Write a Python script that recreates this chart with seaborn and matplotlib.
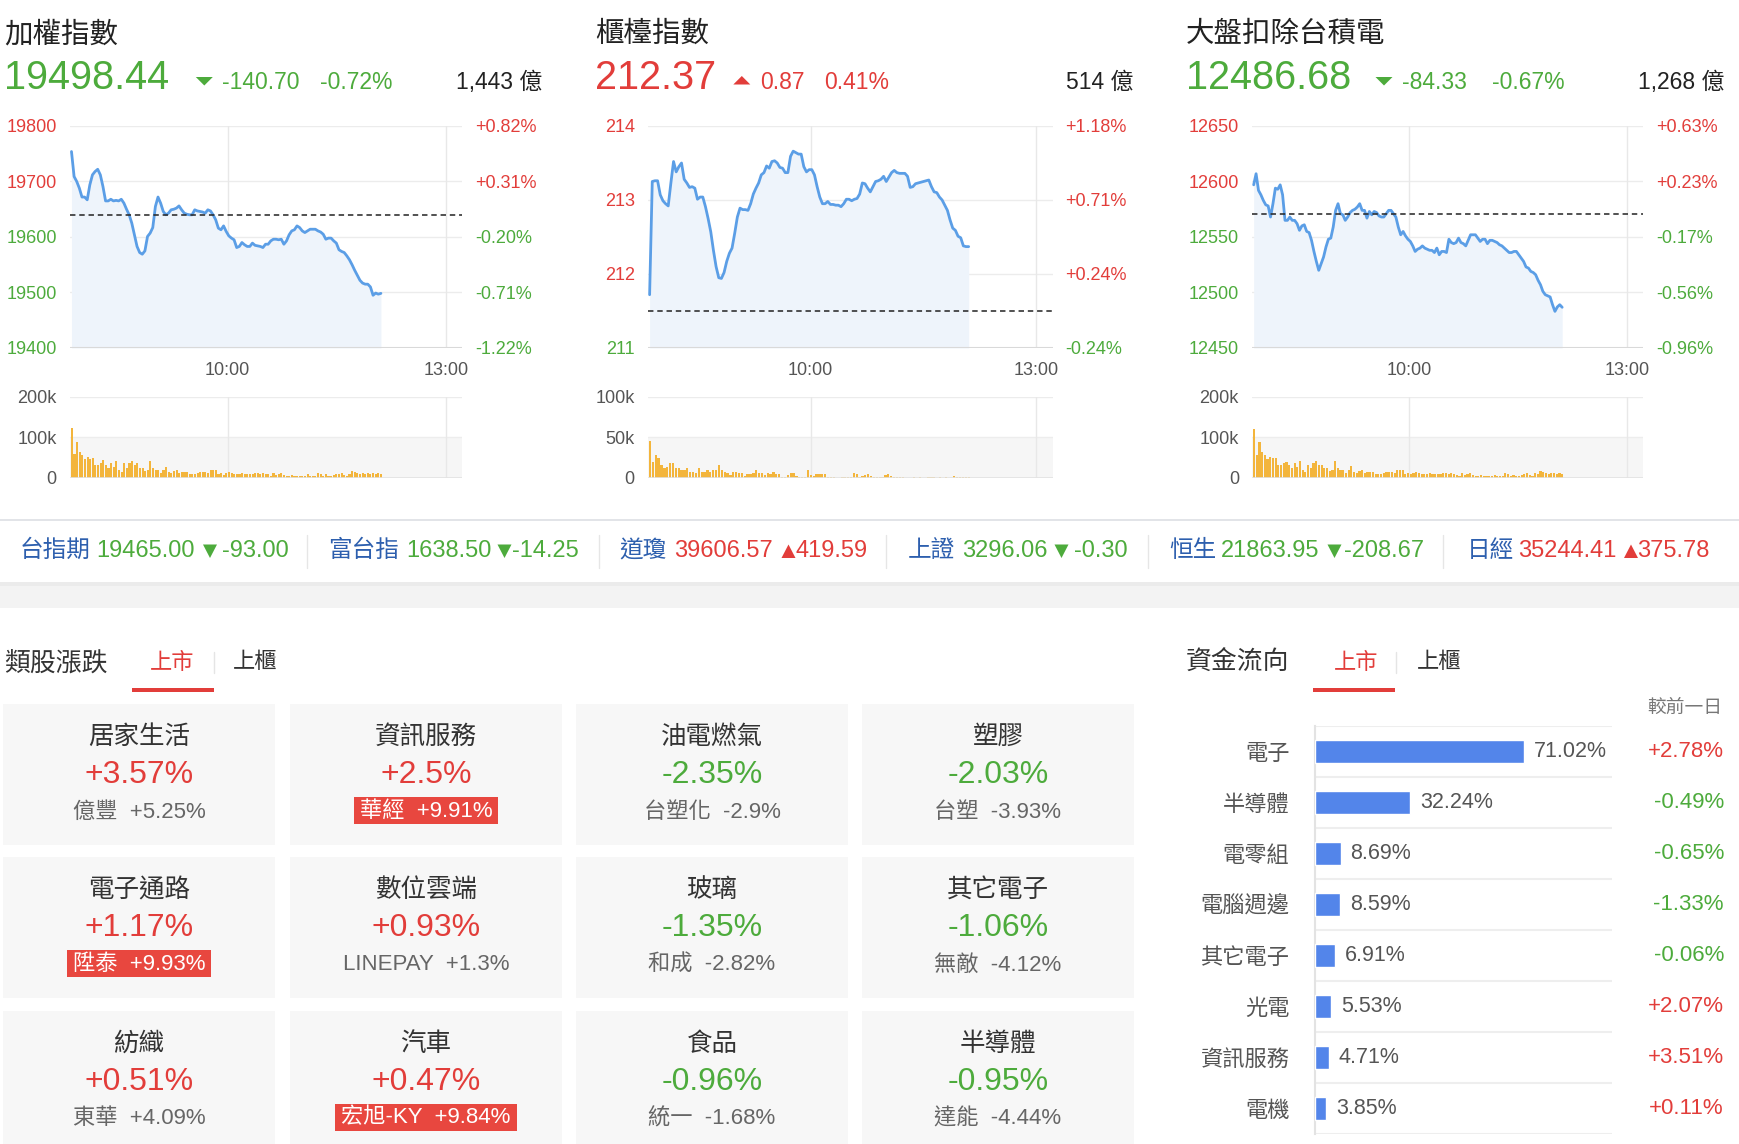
#!/usr/bin/env python3
"""
Painel de mercado (TW): três índices intradiários com volume,
faixa de índices internacionais, variação por setor e fluxo de recursos.
Salva em out.png (1740x1144).
"""

import numpy as np
import matplotlib
matplotlib.use("Agg")
import matplotlib.pyplot as plt
import seaborn as sns
from matplotlib.patches import Rectangle, Polygon


# ---------------- dados ----------------
INDEX_NAMES = ["加權指數", "櫃檯指數", "大盤扣除台積電"]
INDEX_LAST = [19498.44, 212.37, 12486.68]
INDEX_CHANGE = [-140.70, 0.87, -84.33]
INDEX_PCT = [-0.72, 0.41, -0.67]
INDEX_TURNOVER = [1443, 514, 1268]

TAIEX_TICKS = [19400, 19500, 19600, 19700, 19800]
OTC_TICKS = [211, 212, 213, 214]
EXTSMC_TICKS = [12450, 12500, 12550, 12600, 12650]

TAIEX_LINE = [
    19754, 19709, 19700, 19688, 19672, 19672, 19667, 19694, 19712, 19718,
    19722, 19712, 19691, 19665, 19665, 19668, 19665, 19666, 19665, 19668,
    19661, 19650, 19640, 19625, 19604, 19583, 19572, 19569, 19575, 19601,
    19607, 19617, 19655, 19672, 19661, 19646, 19640, 19643, 19649, 19650,
    19652, 19656, 19649, 19643, 19641, 19640, 19640, 19649, 19647, 19646,
    19645, 19643, 19649, 19647, 19640, 19631, 19616, 19613, 19620, 19610,
    19602, 19598, 19595, 19581, 19583, 19590, 19586, 19583, 19583, 19589,
    19585, 19584, 19583, 19581, 19587, 19587, 19593, 19596, 19596, 19595,
    19596, 19587, 19593, 19604, 19611, 19613, 19620, 19617, 19611, 19608,
    19611, 19614, 19614, 19614, 19611, 19609, 19605, 19596, 19598, 19598,
    19593, 19589, 19577, 19574, 19572, 19566, 19559, 19550, 19540, 19531,
    19522, 19517, 19515, 19515, 19510, 19495, 19499, 19497, 19498.44,
]
OTC_LINE = [
    211.72, 213.25, 213.26, 213.26, 213.07, 212.99, 212.95, 212.92, 213.23, 213.52,
    213.38, 213.45, 213.50, 213.28, 213.23, 213.17, 213.18, 213.16, 213.01, 213.04,
    213.04, 212.91, 212.75, 212.57, 212.32, 212.10, 211.95, 211.94, 212.02, 212.17,
    212.28, 212.35, 212.55, 212.77, 212.89, 212.87, 212.87, 212.86, 212.95, 213.08,
    213.16, 213.23, 213.34, 213.37, 213.46, 213.43, 213.52, 213.53, 213.50, 213.44,
    213.43, 213.37, 213.37, 213.59, 213.66, 213.64, 213.62, 213.62, 213.45, 213.38,
    213.41, 213.41, 213.34, 213.18, 213.04, 212.95, 212.95, 212.98, 212.94, 212.94,
    212.93, 212.93, 212.91, 212.95, 213.01, 213.01, 212.99, 213.01, 213.02, 213.08,
    213.23, 213.22, 213.16, 213.11, 213.18, 213.25, 213.26, 213.28, 213.32, 213.25,
    213.31, 213.37, 213.40, 213.37, 213.36, 213.36, 213.36, 213.32, 213.17, 213.18,
    213.22, 213.23, 213.24, 213.25, 213.26, 213.27, 213.18, 213.11, 213.10, 213.04,
    213.00, 212.93, 212.86, 212.73, 212.62, 212.59, 212.51, 212.49, 212.38, 212.37,
    212.37,
]
EXTSMC_LINE = [
    12597, 12607, 12592, 12588, 12583, 12579, 12578, 12568, 12580, 12594,
    12593, 12597, 12588, 12565, 12565, 12568, 12565, 12565, 12562, 12556,
    12560, 12561, 12555, 12554, 12547, 12537, 12528, 12520, 12526, 12532,
    12541, 12548, 12549, 12559, 12574, 12580, 12571, 12570, 12565, 12568,
    12572, 12574, 12575, 12577, 12580, 12574, 12574, 12567, 12573, 12570,
    12573, 12572, 12569, 12568, 12568, 12571, 12574, 12574, 12571, 12568,
    12559, 12552, 12555, 12551, 12548, 12546, 12542, 12537, 12539, 12540,
    12542, 12540, 12539, 12538, 12538, 12536, 12540, 12534, 12537, 12537,
    12536, 12548, 12545, 12544, 12545, 12549, 12545, 12544, 12542, 12547,
    12552, 12552, 12552, 12549, 12546, 12548, 12548, 12544, 12547, 12547,
    12546, 12545, 12543, 12542, 12540, 12538, 12536, 12536, 12537, 12537,
    12534, 12531, 12528, 12523, 12522, 12519, 12518, 12516, 12511, 12507,
    12501, 12498, 12497, 12496, 12489, 12483, 12487, 12489, 12486.68,
]

# volume em milhares
TAIEX_VOL = [
    124, 60, 88, 64, 56, 47, 52, 47, 49, 32, 32, 37, 45, 32, 24, 37, 28, 41, 20, 16,
    37, 24, 37, 41, 32, 37, 24, 24, 17, 20, 41, 24, 20, 20, 12, 20, 28, 16, 13, 17,
    20, 12, 16, 16, 16, 10, 10, 10, 12, 16, 16, 16, 12, 20, 20, 20, 10, 12, 8, 12,
    16, 12, 9, 9, 9, 12, 9, 9, 9, 9, 12, 12, 9, 12, 9, 9, 5, 12, 8, 9,
    12, 8, 5, 5, 8, 5, 5, 5, 5, 5, 9, 5, 5, 5, 12, 9, 5, 9, 5, 5,
    8, 9, 9, 12, 8, 5, 9, 17, 15, 12, 10, 12, 9, 12, 10, 12, 11, 12, 10,
]
OTC_VOL = [
    46, 20, 29, 25, 16, 12, 14, 18, 18, 12, 12, 10, 10, 12, 8, 8, 6, 12, 8, 8,
    10, 8, 10, 10, 16, 10, 8, 6, 4, 8, 8, 6, 6, 2.5, 4.6, 4.6, 6, 10, 6, 6,
    4, 6, 4.6, 8, 4.6, 4.6, 1.7, 1.7, 4, 6, 6, 2.5, 1.7, 1.7, 1.7, 10, 4, 2.5, 4.6, 4.6,
    4.6, 4.6, 1.7, 1.7, 1.7, 0, 0, 1.7, 1.7, 1.7, 1.7, 6, 4.6, 1.7, 2.5, 4, 4.6, 2.5, 1.7, 1.7,
    1.7, 1.7, 4, 4.6, 2.5, 1.7, 1.7, 1.7, 1.7, 0, 0, 0, 1.7, 0, 1.7, 0, 0, 1.7, 1.7, 1.7,
    0, 1.7, 0, 1.7, 0, 0, 2, 1.7, 1.7, 1.7, 1.7, 1.7,
]
EXTSMC_VOL = [
    120, 57, 89, 64, 57, 47, 52, 49, 49, 32, 32, 37, 39, 32, 24, 37, 28, 41, 20, 16,
    32, 24, 37, 41, 32, 32, 24, 24, 17, 20, 41, 24, 20, 20, 12, 20, 30, 16, 13, 17,
    20, 12, 16, 16, 16, 9, 9, 9, 12, 16, 16, 16, 12, 20, 20, 20, 9, 12, 9, 12,
    16, 12, 9, 9, 9, 12, 9, 9, 9, 9, 12, 12, 9, 12, 9, 8, 5, 12, 8, 9,
    12, 8, 5, 5, 8, 5, 5, 5, 5, 8, 5, 5, 5, 12, 9, 5, 8, 5, 5, 8,
    9, 12, 8, 5, 12, 10, 17, 15, 12, 10, 12, 12, 10, 12, 11,
]
VOL_TICKS = [[0, 100, 200], [0, 50, 100], [0, 100, 200]]
VOL_LABELS = [["0", "100k", "200k"], ["0", "50k", "100k"], ["0", "100k", "200k"]]
TIME_LABELS = ["10:00", "13:00"]

TICKER_NAMES = ["台指期", "富台指", "道瓊", "上證", "恒生", "日經"]
TICKER_PRICE = [19465.00, 1638.50, 39606.57, 3296.06, 21863.95, 35244.41]
TICKER_CHANGE = [-93.00, -14.25, 419.59, -0.30, -208.67, 375.78]

SECTOR_NAMES = ["居家生活", "資訊服務", "油電燃氣", "塑膠",
                "電子通路", "數位雲端", "玻璃", "其它電子",
                "紡織", "汽車", "食品", "半導體"]
SECTOR_CHANGE = [3.57, 2.5, -2.35, -2.03, 1.17, 0.93, -1.35, -1.06,
                 0.51, 0.47, -0.96, -0.95]
LEADER_NAMES = ["億豐", "華經", "台塑化", "台塑", "陞泰", "LINEPAY", "和成", "無敵",
                "東華", "宏旭-KY", "統一", "達能"]
LEADER_CHANGE = [5.25, 9.91, -2.9, -3.93, 9.93, 1.3, -2.82, -4.12,
                 4.09, 9.84, -1.68, -4.44]

FLOW_NAMES = ["電子", "半導體", "電零組", "電腦週邊", "其它電子", "光電", "資訊服務", "電機"]
FLOW_SHARE = [71.02, 32.24, 8.69, 8.59, 6.91, 5.53, 4.71, 3.85]
FLOW_DIFF = [2.78, -0.49, -0.65, -1.33, -0.06, 2.07, 3.51, 0.11]

# ---------------- estilo ----------------
W, H = 1740, 1144
RED = "#e23d3a"
GREEN = "#4dab3c"
LINE_BLUE = "#5b9ee6"
FILL = "#eef4fb"
BAR_ORANGE = "#f3b53c"
FLOW_BLUE = "#5385ea"
TICKER_BLUE = "#2d5fae"
DARK = "#333333"
GRAY = "#666666"
GRID = "#ececec"

DATA_END = 0.792
TIME_TICKS = [0.401, 0.958]

sns.set_style("white")
plt.rcParams["font.family"] = ["Liberation Sans", "Noto Sans CJK TC", "DejaVu Sans"]


def axes_px(fig, left, top, right, bottom):
    ax = fig.add_axes([left / W, 1 - bottom / H, (right - left) / W, (bottom - top) / H])
    ax.set_facecolor("none")
    ax.set_zorder(2)
    return ax


def clean(ax):
    for s in ax.spines.values():
        s.set_visible(False)


def sign_color(v):
    return RED if v > 0 else GREEN


def draw_index(ax, axv, line, ticks, prev, volume, vticks, vlabels):
    xs = np.linspace(0.003, DATA_END, len(line))
    lo, hi = ticks[0], ticks[-1]
    for t in ticks:
        ax.axhline(t, color=GRID, lw=1, zorder=0)
    for t in TIME_TICKS:
        ax.axvline(t, color="#e8e8e8", lw=1, zorder=0)
    ax.fill_between(xs, line, lo, color=FILL, lw=0, zorder=1)
    sns.lineplot(x=xs, y=line, ax=ax, color=LINE_BLUE, linewidth=2.0, zorder=3)
    ax.axhline(lo, color="#d9d9d9", lw=1.5, zorder=2)
    ax.axhline(prev, color="#2a2a2a", lw=1.15, ls=(0, (3.4, 2.4)), zorder=4)
    ax.set_xlim(0, 1)
    ax.set_ylim(lo, hi)
    ax.set_xlabel("")
    ax.set_ylabel("")
    ax.set_xticks(TIME_TICKS)
    ax.set_xticklabels(TIME_LABELS, fontsize=13, color="#555555")
    ax.set_yticks(ticks)
    ax.set_yticklabels([f"{t:g}" for t in ticks], fontsize=13)
    for lab, t in zip(ax.get_yticklabels(), ticks):
        lab.set_color(sign_color(t - prev))
    ax.tick_params(axis="y", length=0, pad=9.8)
    ax.tick_params(axis="x", length=0, pad=10)
    clean(ax)

    ax2 = ax.twinx()
    ax2.set_facecolor("none")
    ax2.set_ylim(lo, hi)
    ax2.set_yticks(ticks)
    pcts = [(t - prev) / prev * 100 for t in ticks]
    ax2.set_yticklabels([f"{p:+.2f}%" for p in pcts], fontsize=13)
    for lab, p in zip(ax2.get_yticklabels(), pcts):
        lab.set_color(sign_color(p))
    ax2.tick_params(axis="y", length=0, pad=9)
    clean(ax2)

    # volume
    xv = np.linspace(0.004, DATA_END, len(volume))
    axv.axhspan(0, vticks[1], color="#f6f6f6", lw=0, zorder=0)
    axv.axhline(vticks[1], color="#ededed", lw=1, zorder=0.5)
    axv.axhline(vticks[2], color=GRID, lw=1, zorder=0.5)
    for t in TIME_TICKS:
        axv.axvline(t, color="#e8e8e8", lw=1, zorder=0.5)
    sns.barplot(x=xv, y=volume, native_scale=True, color=BAR_ORANGE, saturation=1,
                width=0.8, errorbar=None, linewidth=0, ax=axv, zorder=2)
    axv.axhline(0, color="#e2e2e2", lw=1.2, zorder=3)
    axv.set_xlim(0, 1)
    axv.set_ylim(0, vticks[2])
    axv.set_xticks([])
    axv.set_xlabel("")
    axv.set_ylabel("")
    axv.set_yticks(vticks)
    axv.set_yticklabels(vlabels, fontsize=13, color="#555555")
    axv.tick_params(axis="y", length=0, pad=9.8)
    clean(axv)


def main():
    fig = plt.figure(figsize=(W / 100, H / 100), dpi=100)
    fig.patch.set_facecolor("white")

    bg = fig.add_axes([0, 0, 1, 1])
    bg.set_xlim(0, W)
    bg.set_ylim(H, 0)
    bg.axis("off")
    bg.set_zorder(0)

    # ---------- índices ----------
    panels = [
        dict(left=70.3, right=462.5, title=4, tri=204.3, chg=222, pct=320, turn=542),
        dict(left=648.4, right=1052.8, title=595, tri=741.8, chg=760, pct=824, turn=1133),
        dict(left=1252.5, right=1643.5, title=1186, tri=1384, chg=1402, pct=1492, turn=1724),
    ]
    lines = [TAIEX_LINE, OTC_LINE, EXTSMC_LINE]
    vols = [TAIEX_VOL, OTC_VOL, EXTSMC_VOL]
    ticks = [TAIEX_TICKS, OTC_TICKS, EXTSMC_TICKS]

    for i, p in enumerate(panels):
        last, chg, pct = INDEX_LAST[i], INDEX_CHANGE[i], INDEX_PCT[i]
        prev = last - chg
        col = sign_color(chg)
        bg.text(p["title"], 35, INDEX_NAMES[i], fontsize=20.5, color="#222222",
                va="center", ha="left")
        bg.text(p["title"], 89, f"{last:.2f}", fontsize=28.5, color=col,
                va="baseline", ha="left")
        c = p["tri"]
        if chg < 0:
            tri = [(c - 8.5, 77), (c + 8.5, 77), (c, 85.5)]
        else:
            tri = [(c - 8.5, 84.5), (c + 8.5, 84.5), (c, 76)]
        bg.add_patch(Polygon(tri, closed=True, fc=col, ec="none"))
        bg.text(p["chg"], 89, f"{chg:.2f}", fontsize=16.5, color=col, va="baseline")
        bg.text(p["pct"], 89, f"{pct:.2f}%", fontsize=16.5, color=col, va="baseline")
        bg.text(p["turn"], 89, f"{INDEX_TURNOVER[i]:,} 億", fontsize=16.5,
                color="#222222", va="baseline", ha="right")

        ax = axes_px(fig, p["left"], 126, p["right"], 348)
        axv = axes_px(fig, p["left"], 397, p["right"], 478)
        draw_index(ax, axv, lines[i], ticks[i], prev, vols[i], VOL_TICKS[i], VOL_LABELS[i])

    # ---------- faixa internacional ----------
    bg.add_patch(Rectangle((0, 519), W, 2, fc="#e2e4e8", ec="none"))
    bg.add_patch(Rectangle((0, 582), W, 26, fc="#f3f3f3", ec="none"))
    bg.add_patch(Rectangle((0, 582), W, 4, fc="#ebebeb", ec="none"))
    lab_x = [20, 328.5, 619, 908, 1169, 1467]
    val_x = [96.6, 406, 673.7, 962, 1221, 1518]
    tri_x = [210, 504.5, 788.5, 1061.5, 1334.5, 1631]
    chg_r = [288.6, 579, 868, 1128, 1424, 1709]
    for sx in [307, 599, 886, 1147.6, 1443]:
        bg.plot([sx, sx], [535, 568], color="#e6e6e6", lw=1)
    for i, name in enumerate(TICKER_NAMES):
        ch = TICKER_CHANGE[i]
        col = sign_color(ch)
        bg.text(lab_x[i], 551, name, fontsize=17, color=TICKER_BLUE, va="center")
        bg.text(val_x[i], 551, f"{TICKER_PRICE[i]:.2f}", fontsize=17, color=col, va="center")
        c = tri_x[i]
        if ch < 0:
            tri = [(c - 7, 544.5), (c + 7, 544.5), (c, 558)]
        else:
            tri = [(c - 7, 558), (c + 7, 558), (c, 544.5)]
        bg.add_patch(Polygon(tri, closed=True, fc=col, ec="none"))
        bg.text(chg_r[i], 551, f"{ch:.2f}", fontsize=17, color=col, va="center", ha="right")

    # ---------- abas ----------
    for head_x, head, tab1, tab2, ul, sep in [
        (4, "類股漲跌", 150, 233, 132, 214),
        (1186, "資金流向", 1334, 1417, 1313.5, 1396),
    ]:
        bg.text(head_x, 663, head, fontsize=18.6, color=DARK, va="center")
        bg.text(tab1, 663, "上市", fontsize=16, color=RED, va="center")
        bg.text(tab2, 663, "上櫃", fontsize=16, color=DARK, va="center")
        bg.add_patch(Rectangle((ul, 688), 82, 4, fc=RED, ec="none"))
        bg.plot([sep, sep], [652, 673], color="#e5e5e5", lw=1)

    # ---------- setores ----------
    renderer = fig.canvas.get_renderer()
    col_left = [3, 290, 576, 862]
    row_top = [704, 857, 1011]
    cw, ch_ = 272, 141
    for k, name in enumerate(SECTOR_NAMES):
        r, cidx = divmod(k, 4)
        x0, y0 = col_left[cidx], row_top[r]
        cx = x0 + cw / 2
        bg.add_patch(Rectangle((x0, y0), cw, ch_, fc="#f7f7f7", ec="none"))
        bg.text(cx, y0 + 33, name, fontsize=18.4, color=DARK, ha="center", va="center")
        v = SECTOR_CHANGE[k]
        bg.text(cx, y0 + 71, f"{v:+g}%", fontsize=23, color=sign_color(v),
                ha="center", va="center")
        lv = LEADER_CHANGE[k]
        sub = f"{LEADER_NAMES[k]}  {lv:+g}%"
        if lv >= 9.5:
            t = bg.text(cx, y0 + 107, sub, fontsize=16, color="white",
                        ha="center", va="center", zorder=5)
            bb = t.get_window_extent(renderer).transformed(bg.transData.inverted())
            bx0, bx1 = min(bb.x0, bb.x1) - 6, max(bb.x0, bb.x1) + 6
            bg.add_patch(Rectangle((bx0, y0 + 93), bx1 - bx0, 27, fc="#e8473f",
                                   ec="none", zorder=4))
        else:
            bg.text(cx, y0 + 108, sub, fontsize=16, color=GRAY, ha="center", va="center")

    # ---------- fluxo de recursos ----------
    bg.text(1722, 708, "較前一日", fontsize=13.5, color="#777777", ha="right", va="center")
    axf = axes_px(fig, 1315, 726, 1612, 1134)
    sns.barplot(x=FLOW_SHARE, y=FLOW_NAMES, orient="h", color=FLOW_BLUE, saturation=1,
                width=0.47, errorbar=None, ax=axf, zorder=3)
    n = len(FLOW_NAMES)
    for yy in np.arange(-0.5, n, 1.0):
        axf.axhline(yy, color="#eeeeee", lw=1.5, zorder=1)
    axf.set_ylim(n - 0.5, -0.5)
    axf.set_xlim(0, 100.7)
    axf.set_xticks([])
    axf.set_xlabel("")
    axf.set_ylabel("")
    axf.tick_params(axis="y", length=0, pad=18.4, labelsize=16, labelcolor="#555555")
    clean(axf)
    axf.spines["left"].set_visible(True)
    axf.spines["left"].set_color("#e3e3e3")
    axf.spines["left"].set_linewidth(1.5)
    for i, v in enumerate(FLOW_SHARE):
        axf.annotate(f"{v:.2f}%", (v, i), xytext=(7, 0), textcoords="offset points",
                     fontsize=15.5, color="#555555", va="center", ha="left")
        d = FLOW_DIFF[i]
        axf.text((1724 - 1315) / (1612 - 1315), i, f"{d:+.2f}%", fontsize=16,
                 color=sign_color(d), ha="right", va="center",
                 transform=axf.get_yaxis_transform())

    fig.savefig("out.png", dpi=100)
    plt.close(fig)


if __name__ == "__main__":
    main()
